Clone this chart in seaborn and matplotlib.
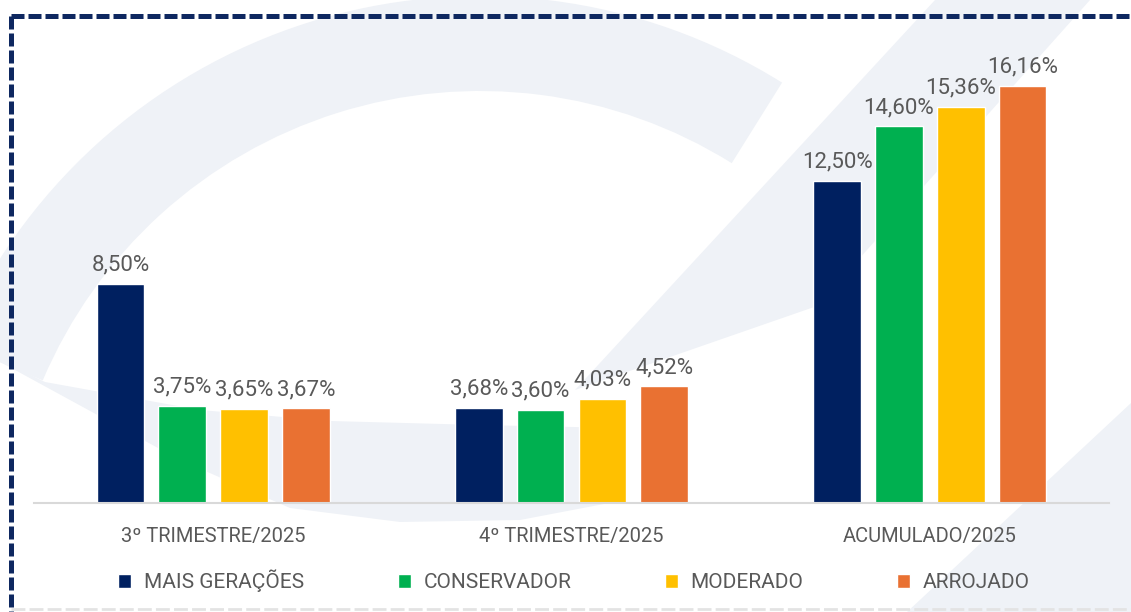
# rentabilidade por perfil de investimento - barras agrupadas por periodo
import matplotlib
matplotlib.use('Agg')
import matplotlib.pyplot as plt
from matplotlib.patches import Wedge, Polygon
import pandas as pd
import seaborn as sns

# dados
periodos = ['3º TRIMESTRE/2025', '4º TRIMESTRE/2025', 'ACUMULADO/2025']
perfis = ['MAIS GERAÇÕES', 'CONSERVADOR', 'MODERADO', 'ARROJADO']
mais_geracoes = [8.50, 3.68, 12.50]
conservador = [3.75, 3.60, 14.60]
moderado = [3.65, 4.03, 15.36]
arrojado = [3.67, 4.52, 16.16]
cores = ['#002060', '#00B050', '#FFC000', '#E97132']

linhas = []
for perfil, valores in zip(perfis, [mais_geracoes, conservador, moderado, arrojado]):
    for periodo, v in zip(periodos, valores):
        linhas.append({'periodo': periodo, 'perfil': perfil, 'rent': v})
df = pd.DataFrame(linhas)

sns.set_theme(style='white')
plt.rcParams['font.family'] = ['Roboto', 'DejaVu Sans']
cinza = '#595959'

fig = plt.figure(figsize=(11.31, 6.12), dpi=100)

# fundo: marca d'agua clara, em coordenadas de pixel
bg = fig.add_axes([0, 0, 1, 1], zorder=0)
bg.set_xlim(0, 1131)
bg.set_ylim(612, 0)
bg.axis('off')
claro = '#EFF2F7'
bg.add_patch(Wedge((480, 566), 570, 203, 302, width=95, color=claro, lw=0))
bg.add_patch(Polygon([(-40, 340), (45, 382), (200, 410), (330, 421), (480, 425),
                      (620, 428), (625, 500), (520, 520), (400, 522), (290, 508),
                      (180, 460)],
                     closed=True, color=claro, lw=0))
bg.add_patch(Polygon([(935, 0), (1090, 0), (817, 306), (575, 390)],
                     closed=True, color=claro, lw=0))
bg.add_patch(Polygon([(1131, 403), (907, 612), (1131, 612)],
                     closed=True, color=claro, lw=0))

# moldura tracejada
bg.plot([11, 1131], [15.5, 15.5], color='#0E2860', lw=3.6, ls=(0, (2.6, 0.8)),
        dash_capstyle='butt')
bg.plot([11, 11], [15.5, 612], color='#0E2860', lw=3.6, ls=(0, (2.6, 0.8)),
        dash_capstyle='butt')
bg.plot([11, 1131], [609, 609], color='#E3E3E3', lw=2, ls=(0, (5, 1.5)))

# grafico principal
ax = fig.add_axes([34 / 1131, 109 / 612, 1075 / 1131, 464.4 / 612], zorder=1)
ax.set_facecolor('none')
sns.barplot(data=df, x='periodo', y='rent', hue='perfil', palette=cores,
            width=0.69, gap=0.23, saturation=1, ax=ax)

for cont in ax.containers:
    rotulos = [f'{b.get_height():.2f}%'.replace('.', ',') for b in cont]
    ax.bar_label(cont, labels=rotulos, padding=6, fontsize=16, color=cinza)

ax.set_ylim(0, 18)
ax.set_xlim(-0.5, 2.5)
ax.set_xlabel('')
ax.set_ylabel('')
ax.set_yticks([])
ax.tick_params(axis='x', length=0, pad=17, labelsize=14.5, labelcolor=cinza)
for lado in ['top', 'left', 'right']:
    ax.spines[lado].set_visible(False)
ax.spines['bottom'].set_color('#D9D9D9')
ax.spines['bottom'].set_linewidth(1.5)

handles, labels = ax.get_legend_handles_labels()
leg = ax.legend(handles, labels, loc='center', bbox_to_anchor=(574 / 1131, 31 / 612),
                bbox_transform=fig.transFigure, ncol=4, frameon=False,
                handlelength=0.63, handleheight=0.63, handletextpad=0.6,
                columnspacing=4.5, fontsize=15)
for t in leg.get_texts():
    t.set_color(cinza)

fig.savefig('out.png', dpi=100)
